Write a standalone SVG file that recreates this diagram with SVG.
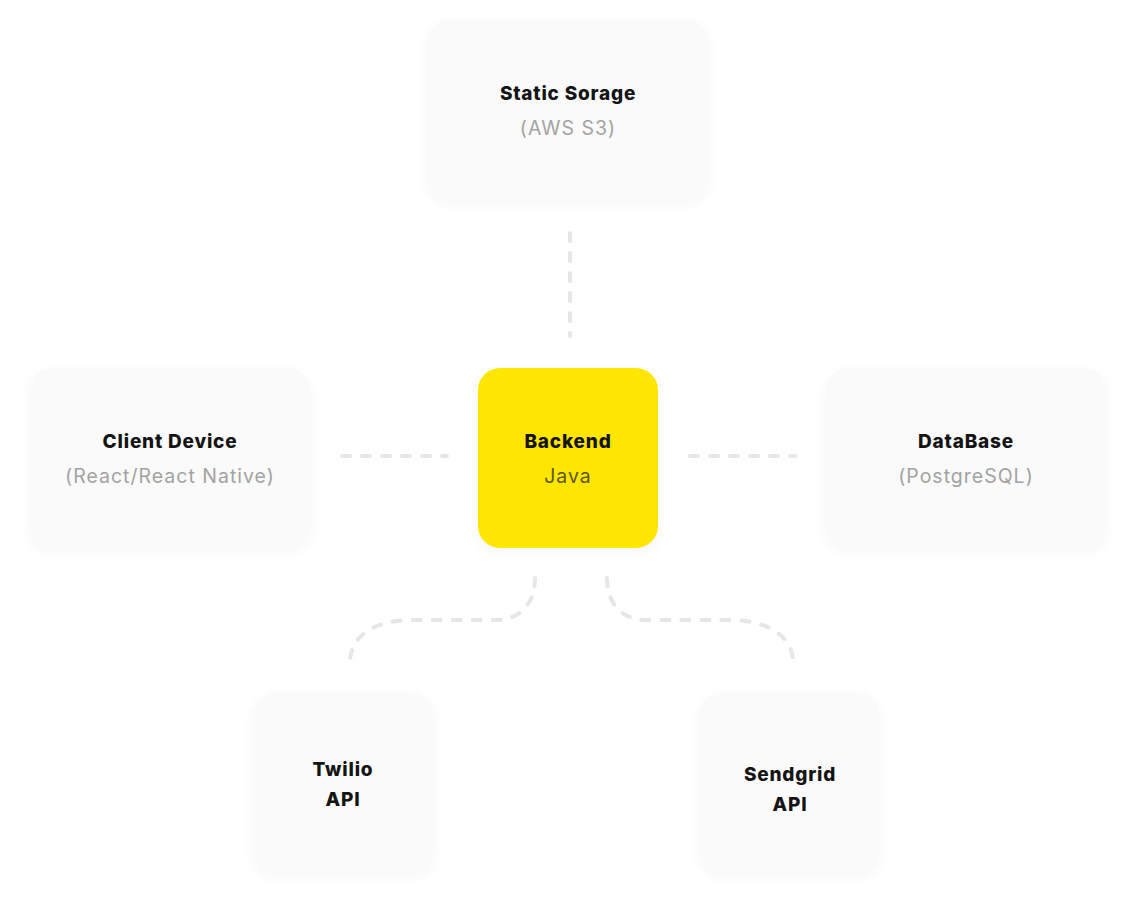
<svg xmlns="http://www.w3.org/2000/svg" width="1136" height="913" viewBox="0 0 1136 913">
  <defs>
    <filter id="sh" x="-20%" y="-20%" width="140%" height="140%">
      <feDropShadow dx="0" dy="4" stdDeviation="6" flood-color="#000" flood-opacity="0.035"/>
    </filter>
  </defs>
  <style>
    .box{fill:#fafafa;filter:url(#sh)}
    .core{fill:#ffe600;filter:url(#sh)}
    .t{font-family:"Inter","Open Sans","Liberation Sans",sans-serif;font-weight:800;font-size:19px;letter-spacing:0.8px;fill:#141414;text-anchor:middle}
    .s{font-family:"Inter","Open Sans","Liberation Sans",sans-serif;font-weight:400;font-size:19.5px;letter-spacing:1px;fill:#a3a3a3;text-anchor:middle}
    .j{fill:#5e5600}
    .c{fill:none;stroke:#e6e6e6;stroke-width:4;stroke-linecap:round;stroke-dasharray:8 12}
  </style>
  <rect width="1136" height="913" fill="#ffffff"/>
  <g id="connectors">
    <path class="c" d="M570 233 L570 336"/>
    <path class="c" d="M342 456 L447 456"/>
    <path class="c" d="M690 456 L795 456"/>
    <path class="c" d="M535 578 C535 604 520 620 495 620 L412 620 C372 620 350 638 350 662"/>
    <path class="c" d="M607 578 C607 604 622 620 647 620 L730 620 C770 620 793 638 793 662"/>
  </g>
  <g id="static-storage">
    <rect class="box" x="428" y="20" width="280" height="180" rx="22"/>
    <text class="t" x="568" y="100">Static Sorage</text>
    <text class="s" x="568" y="135">(AWS S3)</text>
  </g>
  <g id="client-device">
    <rect class="box" x="30" y="368" width="280" height="180" rx="22"/>
    <text class="t" x="170" y="448">Client Device</text>
    <text class="s" x="170" y="483">(React/React Native)</text>
  </g>
  <g id="backend">
    <rect class="core" x="478" y="368" width="180" height="180" rx="22"/>
    <text class="t" x="568" y="448">Backend</text>
    <text class="s j" x="568" y="483">Java</text>
  </g>
  <g id="database">
    <rect class="box" x="826" y="368" width="280" height="180" rx="22"/>
    <text class="t" x="966" y="448">DataBase</text>
    <text class="s" x="966" y="483">(PostgreSQL)</text>
  </g>
  <g id="twilio">
    <rect class="box" x="253" y="693" width="180" height="180" rx="22"/>
    <text class="t" x="343" y="776">Twilio</text>
    <text class="t" x="343" y="806">API</text>
  </g>
  <g id="sendgrid">
    <rect class="box" x="700" y="693" width="180" height="180" rx="22"/>
    <text class="t" x="790" y="781">Sendgrid</text>
    <text class="t" x="790" y="811">API</text>
  </g>
</svg>
